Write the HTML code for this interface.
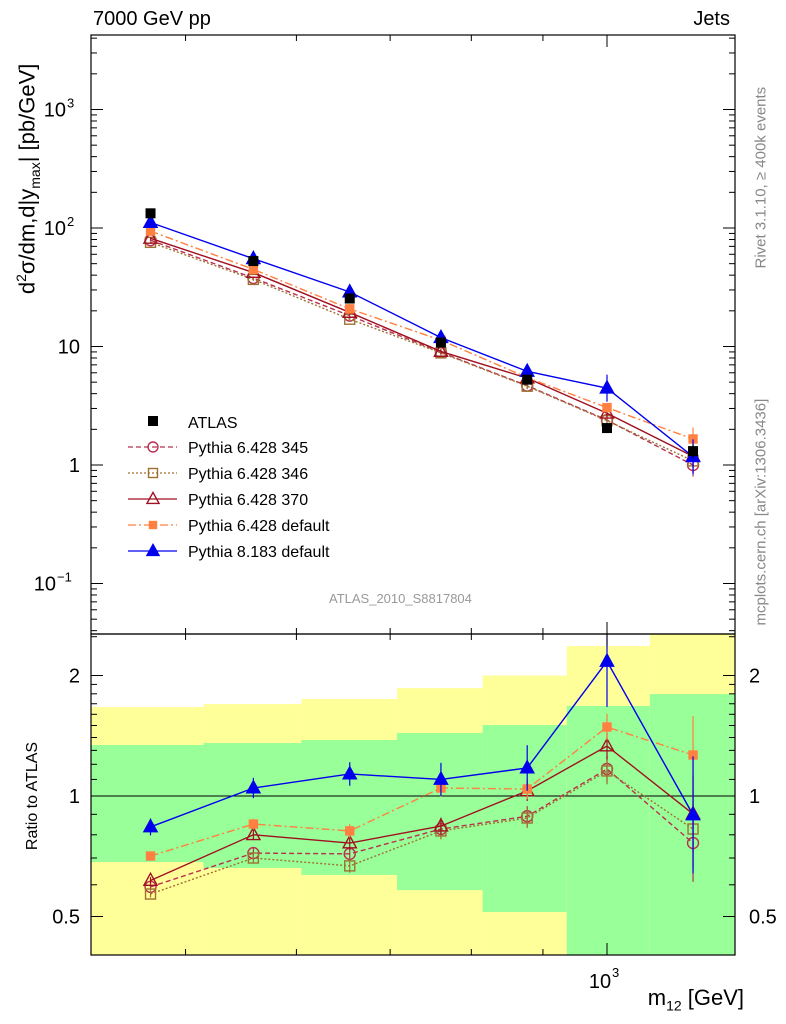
<!DOCTYPE html>
<html><head><meta charset="utf-8"><style>
body{margin:0;background:#fff;}
svg{display:block;font-family:"Liberation Sans",sans-serif;}
</style></head><body>
<svg id="c" width="786" height="1024" xmlns="http://www.w3.org/2000/svg"></svg>
<script>
const xCenters=[472,559,655,761,877,1000,1152];
const xEdges=[428,515,605,708,815,936,1073,1234];
const atlas=[133,52.6,25.4,10.8,5.25,2.05,1.31];
const atlasErrRel=[0.03,0.04,0.05,0.06,0.08,0.1,0.15];
const ratioP8=[0.837,1.047,1.135,1.10,1.175,2.17,0.897];
const ratioDef=[0.708,0.851,0.818,1.047,1.041,1.487,1.266];
const ratio370=[0.615,0.80,0.763,0.841,1.03,1.333,0.902];
const ratio345=[0.593,0.72,0.717,0.827,0.89,1.168,0.763];
const ratio346=[0.569,0.70,0.669,0.818,0.881,1.155,0.827];
const errP8=[0.05,0.06,0.07,0.10,0.14,0.3,0.4];
const errMC=[0.02,0.03,0.04,0.05,0.06,0.08,0.25];
const greenUp=[1.341,1.356,1.380,1.437,1.504,1.678,1.797];
const greenLo=[0.684,0.661,0.635,0.582,0.513,0.35,0.35];
const yellowUp=[1.668,1.697,1.747,1.86,2.0,2.37,2.7];
const yellowLo=[0.3,0.3,0.3,0.3,0.3,0.3,0.3];

const L=91,R=735,T=35,M=634,B=955;
const X=v=>607+1400*(Math.log10(v)-3);
const Y=v=>465-118.5*Math.log10(v);
const YR=v=>796-120.5*Math.log2(v);
const svg=document.getElementById('c');
const NS='http://www.w3.org/2000/svg';
function el(tag,attrs,parent){const e=document.createElementNS(NS,tag);for(const k in attrs)e.setAttribute(k,attrs[k]);(parent||svg).appendChild(e);return e;}
function txt(s,attrs,parent){const e=el('text',attrs,parent);e.textContent=s;return e;}

const defs=el('defs',{});
const c1=el('clipPath',{id:'cm'},defs);el('rect',{x:L,y:T,width:R-L,height:M-T},c1);
const c2=el('clipPath',{id:'cr'},defs);el('rect',{x:L,y:M,width:R-L,height:B-M},c2);

const bands=el('g',{'clip-path':'url(#cr)'});


for(let i=0;i<7;i++){
  const x0=X(xEdges[i]),x1=X(xEdges[i+1]);
  const y=el('rect',{x:x0,y:YR(yellowUp[i]),width:x1-x0,height:YR(yellowLo[i])-YR(yellowUp[i]),fill:'#ffff99'},bands);
  
  
  const g=el('rect',{x:x0,y:YR(greenUp[i]),width:x1-x0,height:YR(greenLo[i])-YR(greenUp[i]),fill:'#99ff99'},bands);
  
  
}
el('line',{x1:L,x2:R,y1:YR(1),y2:YR(1),stroke:'#000','stroke-width':1});

const series=[
 {name:'pythia-6428-345',r:ratio345,col:'#b83050',dash:'5,3',mk:'circle',fill:false,sz:11,label:'Pythia 6.428 345'},
 {name:'pythia-6428-346',r:ratio346,col:'#a07030',dash:'2,2',mk:'square',fill:false,sz:10,label:'Pythia 6.428 346'},
 {name:'pythia-6428-370',r:ratio370,col:'#a01020',dash:'',mk:'tri',fill:false,sz:12,label:'Pythia 6.428 370'},
 {name:'pythia-6428-default',r:ratioDef,col:'#ff8040',dash:'8,3,2,3',mk:'square',fill:true,sz:8,label:'Pythia 6.428 default'},
 {name:'pythia-8183-default',r:ratioP8,col:'#0000ee',dash:'',mk:'tri',fill:true,sz:12,label:'Pythia 8.183 default'}
];
function marker(g,kind,x,y,col,fill,s){
  let m;
  if(kind==='circle')m=el('circle',{cx:x,cy:y,r:s*0.5,fill:fill?col:'none',stroke:col,'stroke-width':1.4},g);
  else if(kind==='square')m=el('rect',{x:x-s*0.5,y:y-s*0.5,width:s,height:s,fill:fill?col:'none',stroke:col,'stroke-width':1.4},g);
  else m=el('polygon',{points:`${x},${y-s*0.6} ${x-s*0.55},${y+s*0.4} ${x+s*0.55},${y+s*0.4}`,fill:fill?col:'none',stroke:col,'stroke-width':1.4},g);
  return m;
}
function drawSeries(clip,yf,vals,errs,s,pre){
  const g=el('g',{'clip-path':clip});
  
  
  const pts=vals.map((v,i)=>X(xCenters[i])+','+yf(v)).join(' ');
  el('polyline',{points:pts,fill:'none',stroke:s.col,'stroke-width':1.4,'stroke-dasharray':s.dash},g);
  vals.forEach((v,i)=>{
    const x=X(xCenters[i]);
    el('line',{x1:x,x2:x,y1:yf(v*(1+errs[i])),y2:yf(v/(1+errs[i])),stroke:s.col,'stroke-width':1.2},g);
    const m=marker(g,s.mk,x,yf(v),s.col,s.fill,s.sz);
    
    
  });
}
series.forEach(s=>{
  const errs=s.name==='pythia-8183-default'?errP8:errMC;
  drawSeries('url(#cm)',Y,s.r.map((r,i)=>r*atlas[i]),errs,s,'main-');
  drawSeries('url(#cr)',YR,s.r,errs,s,'ratio-');
});
atlas.forEach((v,i)=>{
  const x=X(xCenters[i]);
  el('line',{x1:x,x2:x,y1:Y(v*(1+atlasErrRel[i])),y2:Y(v/(1+atlasErrRel[i])),stroke:'#000'});
  const r=el('rect',{x:x-5,y:Y(v)-5,width:10,height:10,fill:'#000'});
  
  
});

el('rect',{x:L,y:T,width:R-L,height:M-T,fill:'none',stroke:'#000','stroke-width':1.2});
el('rect',{x:L,y:M,width:R-L,height:B-M,fill:'none',stroke:'#000','stroke-width':1.2});

for(let d=2;d<=4;d++)for(let k=1;k<10;k++){
  const v=k*Math.pow(10,d);const x=X(v);
  if(x<L||x>R)continue;
  const len=k===1?12:6;
  [T,M].forEach(t=>el('line',{x1:x,x2:x,y1:t,y2:t+len,stroke:'#000'}));
  [M,B].forEach(b=>el('line',{x1:x,x2:x,y1:b,y2:b-len,stroke:'#000'}));
}
const xl=txt('10',{x:600,y:988,'font-size':20,'text-anchor':'middle'});

txt('3',{x:612,y:977,'font-size':13});
for(let d=-2;d<=4;d++)for(let k=1;k<10;k++){
  const v=k*Math.pow(10,d);const y=Y(v);
  if(y<T||y>M)continue;
  const len=k===1?12:6;
  el('line',{x1:L,x2:L+len,y1:y,y2:y,stroke:'#000'});
  el('line',{x1:R,x2:R-len,y1:y,y2:y,stroke:'#000'});
}
const ylabs=[[3,'10','3'],[2,'10','2'],[1,'10',''],[0,'1',''],[-1,'10','−1']];
ylabs.forEach(([e,b,s])=>{
  const y=Y(Math.pow(10,e))+7;
  const g=el('g',{});
  
  if(s){txt(b,{x:s.length>1?56:66,y:y,'font-size':20,'text-anchor':'end'},g);txt(s,{x:s.length>1?57:67,y:y-9,'font-size':13},g);}
  else txt(b,{x:80,y:y,'font-size':20,'text-anchor':'end'},g);
});
[0.4,0.5,0.6,0.7,0.8,0.9,1,1.1,1.2,1.3,1.4,1.5,1.6,1.7,1.8,1.9,2,2.5].forEach(v=>{
  const y=YR(v);if(y<M||y>B)return;
  const len=(v===0.5||v===1||v===2)?12:6;
  el('line',{x1:L,x2:L+len,y1:y,y2:y,stroke:'#000'});
  el('line',{x1:R,x2:R-len,y1:y,y2:y,stroke:'#000'});
});
[[2,'2'],[1,'1'],[0.5,'0.5']].forEach(([v,s])=>{
  const a=txt(s,{x:80,y:YR(v)+7,'font-size':20,'text-anchor':'end'});
  
  const b=txt(s,{x:749,y:YR(v)+7,'font-size':20});
  
});

const lg=el('g',{});

el('rect',{x:148,y:416,width:10,height:10,fill:'#000'},lg);
txt('ATLAS',{x:188,y:428,'font-size':16},lg);
series.forEach((s,i)=>{
  const y=447+i*26;
  const e=el('g',{},lg);
  
  el('line',{x1:128,x2:177,y1:y,y2:y,stroke:s.col,'stroke-width':1.3,'stroke-dasharray':s.dash},e);
  marker(e,s.mk,153,y,s.col,s.fill,s.sz-1);
  txt(s.label,{x:188,y:y+6,'font-size':16},e);
});
</script>
<div style="position:absolute;left:0;top:0;width:786px;height:1024px;pointer-events:none;font-family:'Liberation Sans',sans-serif;">
<div style="position:absolute;left:93px;top:8px;font-size:20px;">7000 GeV pp</div>
<div style="position:absolute;right:56px;top:8px;font-size:20px;">Jets</div>
<div style="position:absolute;left:329px;top:591px;font-size:13px;color:#999;">ATLAS_2010_S8817804</div>
<div style="position:absolute;left:-162px;top:164px;width:380px;text-align:center;transform:rotate(-90deg);font-size:22px;white-space:nowrap;">d<sup style="font-size:14px">2</sup>σ/dm,d|y<sub style="font-size:14px">max</sub>| [pb/GeV]</div>
<div style="position:absolute;left:-32px;top:787px;width:130px;text-align:center;transform:rotate(-90deg);font-size:16px;white-space:nowrap;">Ratio to ATLAS</div>
<div style="position:absolute;right:42px;top:985px;font-size:22px;">m<sub style="font-size:14px">12</sub> [GeV]</div>
<div style="position:absolute;left:641px;top:140px;width:240px;transform:rotate(-90deg);font-size:15px;color:#888;white-space:nowrap;">Rivet 3.1.10, ≥ 400k events</div>
<div style="position:absolute;left:621px;top:477px;width:280px;transform:rotate(-90deg);font-size:15px;color:#888;white-space:nowrap;">mcplots.cern.ch [arXiv:1306.3436]</div>
</div>
</body></html>
